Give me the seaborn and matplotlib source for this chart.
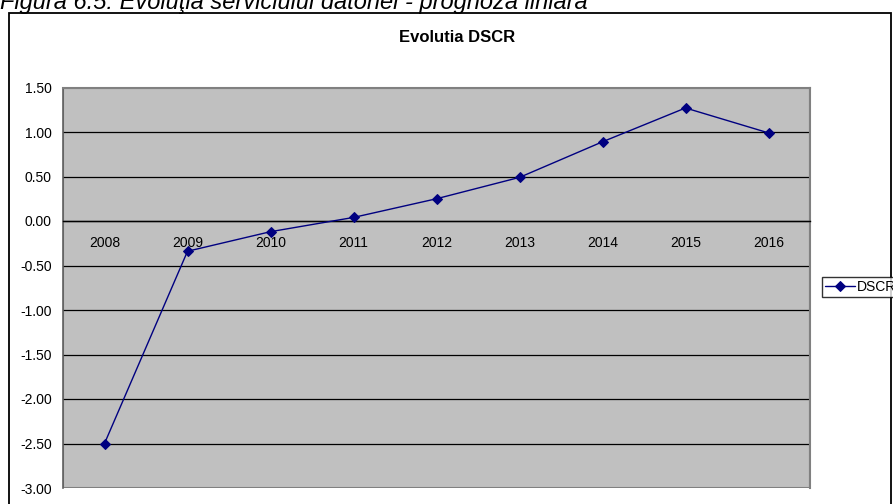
import matplotlib
matplotlib.use("Agg")
import matplotlib.pyplot as plt
import matplotlib.patches as mpatches
import seaborn as sns
import pandas as pd

years = ["2008", "2009", "2010", "2011", "2012", "2013", "2014", "2015", "2016"]
dscr = [-2.50, -0.34, -0.12, 0.04, 0.25, 0.49, 0.89, 1.27, 0.99]
yticks = [-3.0, -2.5, -2.0, -1.5, -1.0, -0.5, 0.0, 0.5, 1.0, 1.5]

sns.set_style("white")
plt.rcParams["font.family"] = ["Liberation Sans", "DejaVu Sans"]
plt.rcParams["text.color"] = "black"
plt.rcParams["xtick.color"] = "black"
plt.rcParams["ytick.color"] = "black"

W, H = 893, 504
fig = plt.figure(figsize=(W / 100, H / 100), dpi=100)
ax = fig.add_axes([63 / W, 1 - 488 / H, (810 - 63) / W, (488 - 87.5) / H])
ax.set_facecolor("#C0C0C0")

df = pd.DataFrame({"pos": list(range(len(years))), "DSCR": dscr})
sns.lineplot(data=df, x="pos", y="DSCR", ax=ax, color="#000080", linewidth=1.0,
             marker="D", markersize=5, markeredgecolor="#000080", label="DSCR",
             legend=False, zorder=5)

ax.set_xlim(-0.5, len(years) - 0.5)
ax.set_ylim(-3.0, 1.5)
ax.set_yticks(yticks)
ax.set_yticklabels([f"{v:.2f}" for v in yticks], fontsize=10, color="black")
for v in yticks[1:-1]:
    ax.axhline(v, color="black", linewidth=0.9, zorder=1)

# x axis at zero
ax.spines["bottom"].set_position(("data", 0))
ax.spines["bottom"].set_color("black")
ax.spines["bottom"].set_linewidth(1.0)
ax.set_xticks([i + 0.5 for i in range(len(years) - 1)])
ax.set_xticklabels([])
ax.tick_params(axis="x", direction="in", length=4, width=1, color="black")
for i, yr in enumerate(years):
    ax.annotate(yr, xy=(i, 0), xycoords="data", xytext=(0, -11), textcoords="offset points",
                ha="center", va="top", fontsize=10, color="black")
ax.tick_params(axis="y", direction="out", length=5, width=1, color="#404040", pad=3)
ax.set_xlabel("")
ax.set_ylabel("")

for s in ["top", "right"]:
    ax.spines[s].set_color("#808080")
    ax.spines[s].set_linewidth(1.5)
ax.spines["left"].set_color("#606060")
ax.spines["left"].set_linewidth(1.2)
ax.add_patch(mpatches.Rectangle((0, 0), 1, 1, transform=ax.transAxes, fill=False,
                                edgecolor="#808080", linewidth=1.5, zorder=0.5))

# outer chart frame
fig.patches.append(mpatches.Rectangle((9 / W, -0.05), (891 - 9) / W, 1.05 - 13 / H,
                                      transform=fig.transFigure, fill=False,
                                      edgecolor="black", linewidth=1.3))

fig.text(457 / W, 1 - 38 / H, "Evolutia DSCR", ha="center", va="center",
         fontsize=12, fontweight="bold", color="black")

fig.text(0, 1 - 9 / H, "Figura 6.5: Evoluţia serviciului datoriei - prognoza liniara",
         ha="left", va="baseline", fontsize=17, style="italic", color="black")

handles, labels = ax.get_legend_handles_labels()
leg = fig.legend(handles, labels, loc="upper left", bbox_to_anchor=(822 / W, 1 - 277 / H),
                 fontsize=10, frameon=True, fancybox=False, edgecolor="black",
                 borderpad=0.2, borderaxespad=0, handlelength=2.2, handletextpad=0.1)
leg.get_frame().set_linewidth(1.0)
for t in leg.get_texts():
    t.set_color("black")

fig.savefig("out.png", dpi=100)
